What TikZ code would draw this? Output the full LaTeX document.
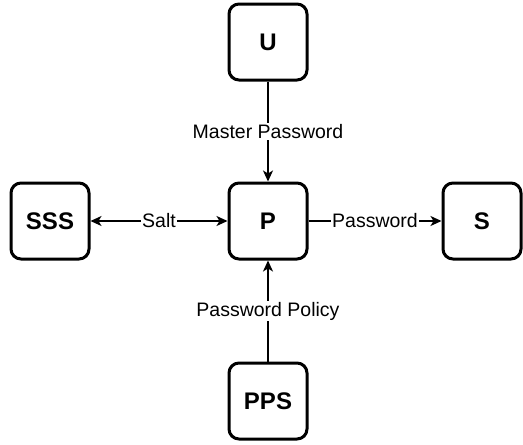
\documentclass[tikz,border=0pt]{standalone}
\usepackage{fontspec}
\setmainfont{Liberation Sans}
\usetikzlibrary{arrows.meta}

\tikzset{
  box/.style={draw=black, line width=3pt, rounded corners=10pt, fill=white,
              minimum width=78pt, minimum height=76pt, inner sep=0pt,
              font=\fontsize{24}{28}\selectfont\bfseries},
  link/.style={line width=1.5pt, -{Stealth[length=11pt, width=10pt, inset=3pt]}},
  linklabel/.style={fill=white, inner sep=1pt, font=\fontsize{19.5}{23}\selectfont}
}

\begin{document}
\begin{tikzpicture}[x=1pt, y=-1pt]
  \useasboundingbox (0, 0) rectangle (523, 445);

  \node[box] (u) at (268, 42) {U};
  \node[box] (p) at (268, 221) {P};
  \node[box] (sss) at (50, 221) {SSS};
  \node[box] (s) at (482, 221) {S};
  \node[box] (pps) at (268, 401) {PPS};

  \draw[link] (u) -- node[linklabel] {Master Password} (p);
  \draw[link, {Stealth[length=11pt, width=10pt, inset=3pt]}-{Stealth[length=11pt, width=10pt, inset=3pt]}] (sss) -- node[linklabel] {Salt} (p);
  \draw[link] (p) -- node[linklabel] {Password} (s);
  \draw[link] (pps) -- node[linklabel] {Password Policy} (p);
\end{tikzpicture}
\end{document}
